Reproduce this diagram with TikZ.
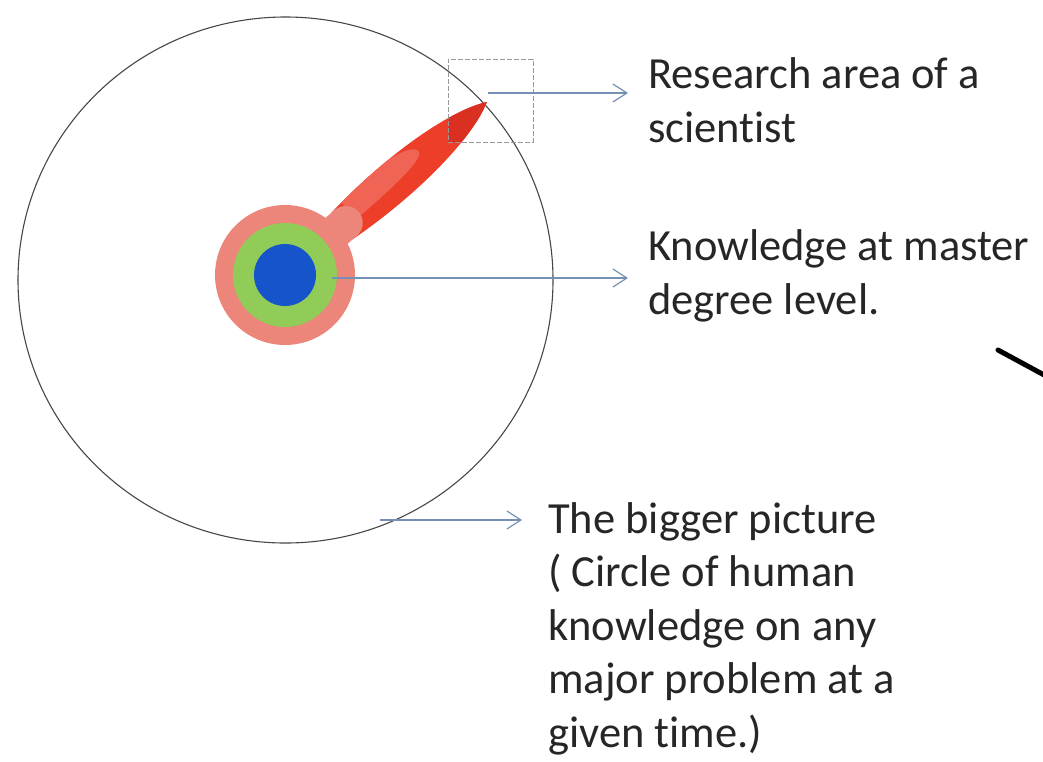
\documentclass[tikz,border=0pt]{standalone}
\usepackage{fontspec}
\setmainfont{Carlito}[Ligatures={NoCommon}]
\usetikzlibrary{arrows.meta,shapes.geometric}
\definecolor{pinkring}{RGB}{236,133,122}
\definecolor{greenring}{RGB}{146,204,88}
\definecolor{bluecore}{RGB}{22,84,204}
\definecolor{redspike}{RGB}{236,62,40}
\definecolor{redlight}{RGB}{240,100,86}
\definecolor{reddark}{RGB}{218,48,34}
\definecolor{conncol}{RGB}{118,144,180}
\definecolor{circcol}{RGB}{70,70,70}
\begin{document}
\begin{tikzpicture}[x=1pt,y=-1pt,
  lbl/.style={font=\fontsize{44.5}{53.5}\selectfont, align=left, inner sep=0pt, text=black!85},
  conn/.style={draw=conncol, line width=1.2pt, -{Straight Barb[length=14pt,width=18pt,line width=1.2pt]}},
  bigcirc/.style={draw=circcol, line width=1.1pt},
  areabox/.style={draw=gray!80, line width=0.9pt, dash pattern=on 5pt off 2pt},
  spikeshape/.style={}]
\useasboundingbox (0,0) rectangle (1043,761);
% big circle
\node[bigcirc, ellipse, minimum width=535pt, minimum height=526pt, inner sep=0pt] (big) at (285.5,280) {};
% spike
\begin{scope}[shift={(285,275)}, rotate=40.6]
  \fill[redspike] (75,-17) .. controls (150,-25) and (230,-19) .. (266,0)
                  .. controls (230,19) and (150,25) .. (75,17) -- cycle;
  \begin{scope}
    \clip (75,-17) .. controls (150,-25) and (230,-19) .. (266,0)
                  .. controls (230,19) and (150,25) .. (75,17) -- cycle;
    \fill[redlight] (90,-22) .. controls (140,-24) and (178,-20) .. (182,-8)
                    .. controls (185,2) and (140,4) .. (90,4) -- cycle;
  \end{scope}
  \fill[pinkring] (0,-17) -- (80,-17) arc[start angle=-90,end angle=90,radius=17] -- (0,17) -- cycle;
\end{scope}
% darker part of the spike inside the research box
\begin{scope}
  \clip (448,59) rectangle (533,142);
  \begin{scope}[shift={(285,275)}, rotate=40.6]
    \fill[reddark] (75,-17) .. controls (150,-25) and (230,-19) .. (266,0)
                  .. controls (230,19) and (150,25) .. (75,17) -- cycle;
  \end{scope}
\end{scope}
% rings
\fill[pinkring] (285,275) circle[radius=70];
\node[circle, fill=greenring, minimum size=104pt, inner sep=0pt] (green) at (285,275) {};
\node[circle, fill=bluecore, minimum size=62pt, inner sep=0pt] (blue) at (285,275) {};
% dashed research box
\node[areabox, minimum width=85pt, minimum height=83pt, inner sep=0pt] (area) at (490.5,100.5) {};
% labels (base anchor = baseline of the last line)
\node[lbl, anchor=base west] (t1) at (648,142) {Research area of a\\scientist};
\node[lbl, anchor=base west] (t2) at (648,314) {Knowledge at master\\degree level.};
\node[lbl, anchor=base west] (t3) at (548,747) {The bigger picture\\( Circle of human\\knowledge on any\\major problem at a\\given time.)};
% connector start points
\coordinate (s1) at (488,93);
\coordinate (s2) at (332,278);
\coordinate (s3) at (380,520);
\draw[conn] (s1) -- ([xshift=-20pt]s1 -| t1.west);
\draw[conn] (s2) -- ([xshift=-20pt]s2 -| t2.west);
\draw[conn] (s3) -- ([xshift=-26pt]s3 -| t3.west);
% stray stroke at the right edge
\draw[line width=5pt, line cap=round] (998,350) -- (1046,376);
\end{tikzpicture}
\end{document}
